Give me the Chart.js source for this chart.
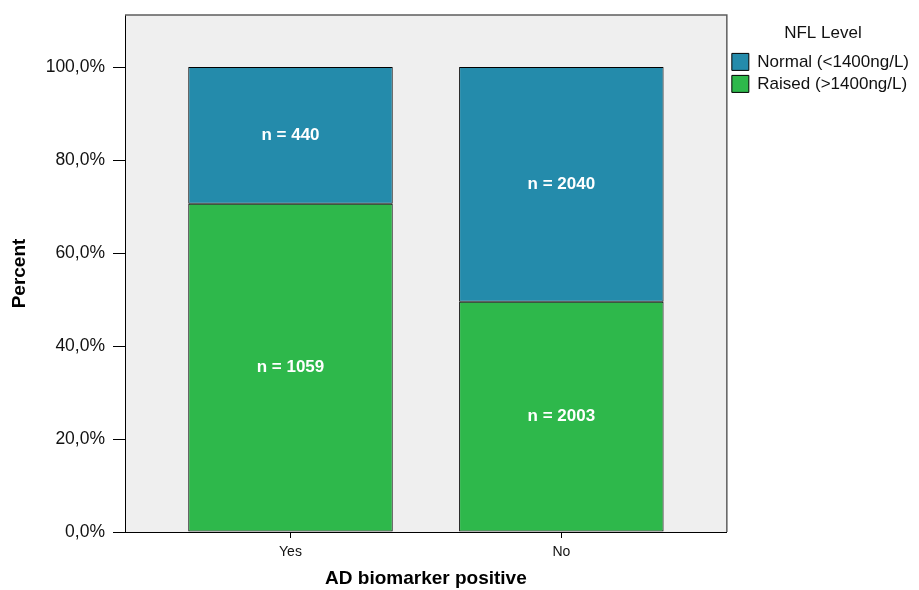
<!DOCTYPE html>
<html>
<head>
<meta charset="utf-8">
<script src="https://cdn.jsdelivr.net/npm/chart.js@4"></script>
<style>
  html, body { margin: 0; padding: 0; background: #fff; }
  #wrap { width: 919px; height: 590px; }
</style>
</head>
<body>
<div id="wrap"><canvas id="chart" width="919" height="590"></canvas></div>
<script>
// categories + values
const categories = ["Yes", "No"];
const raisedPct  = [70.6, 49.5];   // Raised (>1400ng/L)
const normalPct  = [29.4, 50.5];   // Normal (<1400ng/L)
const raisedN    = [1059, 2003];
const normalN    = [440, 2040];
const yTicks     = [0, 20, 40, 60, 80, 100];

const FONT = "'Liberation Sans', Arial, Helvetica, sans-serif";
const BLUE  = "#248bab";
const GREEN = "#2eb84b";

// plot background + grey top/right frame
const frame = {
  id: "frame",
  beforeDraw(chart) {
    const { ctx, chartArea: a } = chart;
    ctx.save();
    ctx.fillStyle = "#efefef";
    ctx.fillRect(a.left, a.top, a.right - a.left, a.bottom - a.top);
    ctx.restore();
  },
  afterDraw(chart) {
    const { ctx, chartArea: a } = chart;
    ctx.save();
    ctx.strokeStyle = "#5e5e5e";
    ctx.lineWidth = 1.5;
    ctx.beginPath();
    ctx.moveTo(a.left, a.top);
    ctx.lineTo(a.right, a.top);
    ctx.lineTo(a.right, a.bottom);
    ctx.stroke();
    ctx.restore();
  }
};

// "n = ..." labels in the middle of each segment
const countLabels = {
  id: "countLabels",
  afterDatasetsDraw(chart) {
    const { ctx } = chart;
    ctx.save();
    ctx.fillStyle = "#fff";
    ctx.font = "bold 17px " + FONT;
    ctx.textAlign = "center";
    ctx.textBaseline = "middle";
    chart.data.datasets.forEach((ds, di) => {
      const meta = chart.getDatasetMeta(di);
      meta.data.forEach((bar, i) => {
        const { x, y, base } = bar.getProps(["x", "y", "base"], true);
        ctx.fillText("n = " + ds.counts[i], x, (y + base) / 2);
      });
    });
    ctx.restore();
  }
};

new Chart(document.getElementById("chart"), {
  type: "bar",
  data: {
    datasets: [
      {
        label: "Raised (>1400ng/L)",
        data: raisedPct.map((v, i) => ({ x: i, y: v })),
        counts: raisedN,
        backgroundColor: GREEN,
        borderColor: "#000",
        borderWidth: 1,
        borderSkipped: false
      },
      {
        label: "Normal (<1400ng/L)",
        data: normalPct.map((v, i) => ({ x: i, y: v })),
        counts: normalN,
        backgroundColor: BLUE,
        borderColor: "#000",
        borderWidth: 1,
        borderSkipped: false
      }
    ]
  },
  options: {
    responsive: false,
    animation: false,
    layout: { padding: { top: 15, right: 0, left: 0, bottom: 0 } },
    categoryPercentage: 1,
    barPercentage: 0.755,
    plugins: {
      tooltip: { enabled: false },
      legend: {
        position: "right",
        align: "start",
        reverse: true,
        title: {
          display: true,
          text: "NFL Level",
          color: "#111",
          font: { family: FONT, size: 17 },
          padding: { top: 10, bottom: 3 }
        },
        labels: {
          color: "#111",
          font: { family: FONT, size: 17 },
          boxWidth: 17,
          boxHeight: 17,
          padding: 5
        }
      }
    },
    scales: {
      x: {
        type: "linear",
        stacked: true,
        offset: false,
        min: -0.611,
        max: 1.611,
        afterBuildTicks: s => { s.ticks = categories.map((_, i) => ({ value: i })); },
        afterFit: s => { s.height = 58; },
        ticks: {
          color: "#111",
          font: { family: FONT, size: 14 },
          padding: 6,
          callback: v => categories[v]
        },
        grid: { offset: false, drawOnChartArea: false, tickLength: 6, color: "#000" },
        border: { color: "#000", width: 1 },
        title: {
          display: true,
          text: "AD biomarker positive",
          color: "#000",
          font: { family: FONT, size: 19, weight: "bold" },
          padding: { top: 0, bottom: 0 }
        }
      },
      y: {
        stacked: true,
        min: 0,
        max: 111.2,
        afterBuildTicks: s => { s.ticks = yTicks.map(v => ({ value: v })); },
        afterFit: s => { s.width = 125; s.paddingTop = 0; },
        ticks: {
          color: "#111",
          font: { family: FONT, size: 17.5 },
          padding: 8,
          callback: v => v.toFixed(1).replace(".", ",") + "%"
        },
        grid: { drawOnChartArea: false, tickLength: 12, color: "#000" },
        border: { color: "#000", width: 1 },
        title: {
          display: true,
          text: "Percent",
          color: "#000",
          font: { family: FONT, size: 19, weight: "bold" },
          padding: { top: 8, bottom: 0 }
        }
      }
    }
  },
  plugins: [frame, countLabels]
});
</script>
</body>
</html>
